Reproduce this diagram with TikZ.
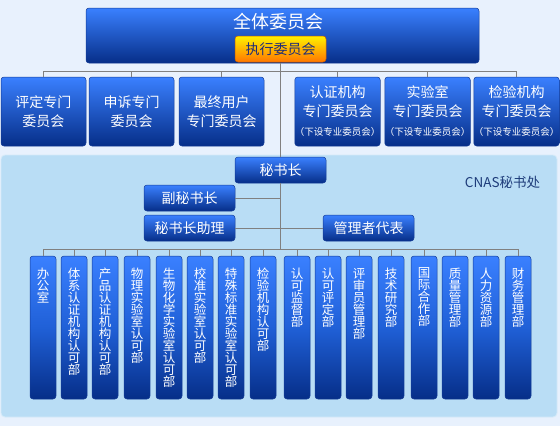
\documentclass[tikz,border=0pt]{standalone}
\usepackage{fontspec}
\setmainfont{Noto Sans CJK SC}
\definecolor{pagebg}{HTML}{E8F1FD}
\definecolor{panelbg}{HTML}{B9DDF5}
\definecolor{boxtop}{RGB}{58,128,255}
\definecolor{boxmid}{RGB}{32,96,215}
\definecolor{boxbot}{RGB}{6,46,136}
\definecolor{boxedge}{RGB}{20,60,150}
\definecolor{exectop}{RGB}{255,242,0}
\definecolor{execbot}{RGB}{255,118,0}
\definecolor{exectext}{RGB}{30,44,120}
\definecolor{linkgray}{RGB}{128,128,128}
\definecolor{officetext}{RGB}{30,60,122}
% vertical text: one character per line, set from the top
\def\vcolloop#1{\ifx#1\relax\else\hbox to 26pt{\hss#1\hss}\expandafter\vcolloop\fi}
\def\vcol#1{\vbox to 143pt{\lineskiplimit=-\maxdimen\vskip 12pt\expandafter\vcolloop#1\relax\vss}}

\begin{document}
\begin{tikzpicture}[x=1pt, y=-1pt,
    box/.style={rounded corners=3pt, top color=boxtop, bottom color=boxbot, draw=boxedge, line width=0.5pt, text=white, inner sep=0pt, align=center},
    cmte/.style={box, minimum width=85pt, minimum height=69pt, font=\fontsize{14}{19}\selectfont},
    head/.style={box, minimum width=91pt, minimum height=26pt, font=\fontsize{14}{16}\selectfont},
    dept/.style={box, top color=boxtop, bottom color=boxbot, middle color=boxmid, minimum width=26pt, minimum height=143pt, font=\fontsize{12.5}{12}\selectfont},
    link/.style={draw=linkgray, line width=1pt}
]
% page and secretariat panel
\fill[pagebg] (0,0) rectangle (560,426);
\draw[panelbg!60!white, fill=panelbg, rounded corners=4pt, line width=0.8pt] (1,155) rectangle (557,417);

% General assembly
\node[box, minimum width=393pt, minimum height=55pt] (full) at (282.5,35.5) {};
\node[text=white, font=\fontsize{18}{18}\selectfont] (fullt) at (278,22) {全体委员会};
\node[head, top color=exectop, bottom color=execbot, draw=execbot!80!black, text=exectext] (exec) at (280.5,49) {执行委员会};

% Committees
\node[cmte] (c1) at (43.5,111.5) {评定专门\\委员会};
\node[cmte] (c2) at (131.5,111.5) {申诉专门\\委员会};
\node[cmte] (c3) at (221.5,111.5) {最终用户\\专门委员会};
\node[cmte] (c4) at (337.5,111.5) {认证机构\\专门委员会\\{\fontsize{9.5}{19}\selectfont （下设专业委员会）}};
\node[cmte] (c5) at (427.5,111.5) {实验室\\专门委员会\\{\fontsize{9.5}{19}\selectfont （下设专业委员会）}};
\node[cmte] (c6) at (516.5,111.5) {检验机构\\专门委员会\\{\fontsize{9.5}{19}\selectfont （下设专业委员会）}};

% Secretariat
\node[text=officetext, font=\fontsize{13.5}{14}\selectfont] (office) at (502.5,182) {CNAS秘书处};
\node[head] (sec) at (280.5,170) {秘书长};
\node[head] (dep) at (189.5,198) {副秘书长};
\node[head] (asst) at (189.5,228) {秘书长助理};
\node[head] (rep) at (368.5,228) {管理者代表};

% Departments
\foreach \x/\n/\t in {43/0/办公室, 74/1/体系认证机构认可部, 105/2/产品认证机构认可部,
    137/3/物理实验室认可部, 169/4/生物化学实验室认可部, 200/5/校准实验室认可部,
    231/6/特殊标准实验室认可部, 263/7/检验机构认可部, 297/8/认可监督部,
    328/9/认可评定部, 359/10/评审员管理部, 391/11/技术研究部, 424/12/国际合作部,
    455/13/质量管理部, 486/14/人力资源部, 518/15/财务管理部}
  \node[dept] (d\n) at (\x,327.5) {\vcol{\t}};

% Connectors
\coordinate (bus1) at (280.5,71);
\coordinate (bus2) at (280.5,249);
\draw[link] (exec.south |- full.south) -- (sec.north);
\draw[link] (c1.north |- bus1) -- (c6.north |- bus1);
\foreach \n in {c1,c2,c3,c4,c5,c6}
  \draw[link] (\n.north |- bus1) -- (\n.north);
\draw[link] (dep.east) -- (dep.east -| sec.south);
\draw[link] (asst.east) -- (rep.west);
\draw[link] (sec.south) -- (bus2);
\draw[link] (d0.north |- bus2) -- (d15.north |- bus2);
\foreach \n in {0,...,15}
  \draw[link] (d\n.north |- bus2) -- (d\n.north);
\end{tikzpicture}
\end{document}
